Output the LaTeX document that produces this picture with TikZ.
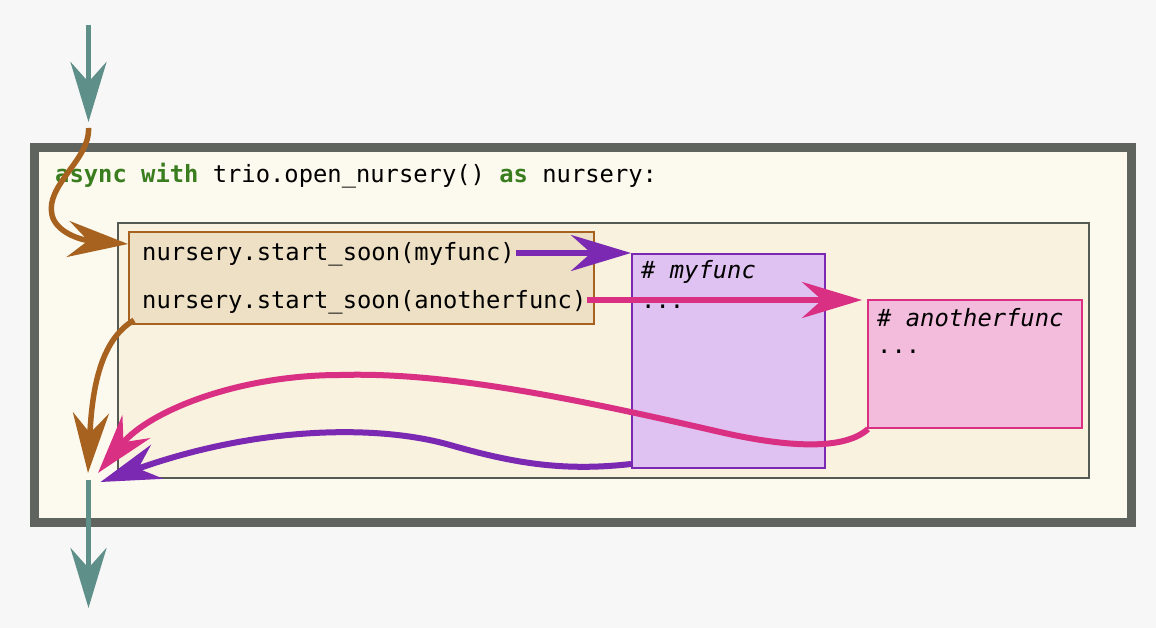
\documentclass[tikz,border=0pt]{standalone}
\usepackage{fontspec}
\setmonofont{DejaVu Sans Mono}
\usetikzlibrary{arrows.meta}
\definecolor{bgc}{HTML}{F7F7F7}
\definecolor{outerbd}{HTML}{5F655E}
\definecolor{outerfl}{HTML}{FCFAEE}
\definecolor{innerbd}{HTML}{555A55}
\definecolor{innerfl}{HTML}{F8F2DF}
\definecolor{orangec}{HTML}{A8621F}
\definecolor{orangefl}{HTML}{EDE0C5}
\definecolor{purplec}{HTML}{7B28B2}
\definecolor{purplefl}{HTML}{DFC2F1}
\definecolor{pinkc}{HTML}{DA3083}
\definecolor{pinkfl}{HTML}{F3BBDC}
\definecolor{tealc}{HTML}{5F8F89}
\definecolor{kwc}{HTML}{3A7D1F}
\tikzset{
  code/.style={font=\ttfamily\fontsize{23.8}{28}\selectfont, text=black, inner sep=0pt, anchor=west},
  bigtip/.style={-{Stealth[length=60pt,width=36pt,inset=20pt]}},
  flow/.style={line width=5.5pt, bigtip},
}
\newcommand{\kwd}[1]{\textcolor{kwc}{\bfseries #1}}
\begin{document}
\begin{tikzpicture}[x=1pt,y=-1pt]
\useasboundingbox (0,0) rectangle (1156,628);
\fill[bgc] (0,0) rectangle (1156,628);
% boxes
\draw[outerbd, fill=outerfl, line width=9pt] (34,147.5) rectangle (1131,522);
\node[code] (title) at (55,176) {\kwd{async} \kwd{with} trio.open\_nursery() \kwd{as} nursery:};
\draw[innerbd, fill=innerfl, line width=2.2pt] (118,223) rectangle (1089,478);
\node[draw=orangec, fill=orangefl, line width=2.2pt, minimum width=465pt, minimum height=92pt, inner sep=0pt, anchor=north west] (calls) at (128,231) {};
\node[code] (l1) at (142,254) {nursery.start\_soon(myfunc)};
\node[code] (l2) at (142,302) {nursery.start\_soon(anotherfunc)};
\node[draw=purplec, fill=purplefl, line width=2pt, minimum width=193pt, minimum height=214pt, inner sep=0pt, anchor=north west] (myf) at (631,253) {};
\node[code] (myft) at (641,272) {\itshape \# myfunc};
\node[code] (myfd) at (641,307) {...};
\node[draw=pinkc, fill=pinkfl, line width=2pt, minimum width=214pt, minimum height=128pt, inner sep=0pt, anchor=north west] (anf) at (867,299) {};
\node[code] (anft) at (877,318) {\itshape \# anotherfunc};
\node[code] (anfd) at (877,352) {...};
% coordinates
\coordinate (intop) at (88.5,25);
\coordinate (intip) at (88.5,122);
\coordinate (orstart) at (88.5,128);
\coordinate (orin) at (128,244);
\coordinate (join) at (88,473);
\coordinate (outstart) at (88.5,480);
\coordinate (outtip) at (88.5,608);
\coordinate (p1s) at (516,253);
\coordinate (p2s) at (587,300);
\coordinate (p2e) at (862,300);
\coordinate (pinkjoin) at (98,473);
\coordinate (purjoin) at (100.5,482);
% teal arrows
\draw[tealc, flow] (intop) -- (intip);
\draw[tealc, flow] (outstart) -- (outtip);
% orange
\draw[orangec, flow] (orstart) .. controls (90,160) and (45,185) .. (52,215) .. controls (56,232) and (80,240) .. (orin);
\draw[orangec, flow] ([shift={(6,-5)}]calls.south west) .. controls (100,340) and (92,390) .. (join);
% starts
\draw[purplec, flow, line width=6pt] (p1s) -- (myf.north west);
\draw[pinkc, flow, line width=6pt] (p2s) -- (p2e);
% returns
\draw[pinkc, flow, line width=6pt] ([xshift=1pt]anf.south west) .. controls (845,450) and (790,448) .. (720,432)
  .. controls (560,395) and (440,372) .. (340,375)
  .. controls (240,375) and (150,410) .. (pinkjoin);
\draw[purplec, flow, line width=6pt] ([yshift=5pt]myf.south west) .. controls (560,472) and (510,462) .. (450,445)
  .. controls (380,425) and (260,425) .. (purjoin);
\end{tikzpicture}
\end{document}
